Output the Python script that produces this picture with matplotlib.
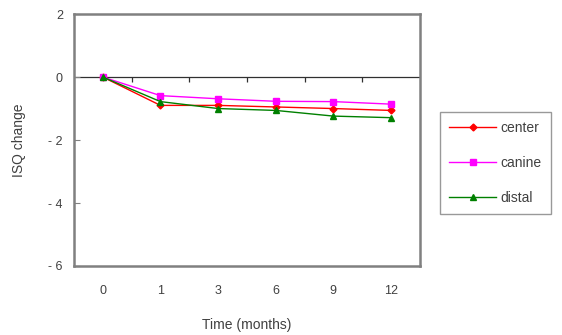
import numpy as np
import matplotlib
matplotlib.use('Agg')
import matplotlib.pyplot as plt

# --- Data ---
months = ['0', '1', '3', '6', '9', '12']
center = [0.0, -0.90, -0.90, -0.95, -1.00, -1.06]
canine = [0.0, -0.59, -0.69, -0.77, -0.78, -0.86]
distal = [0.0, -0.78, -1.00, -1.06, -1.24, -1.29]
y_ticks = [2, 0, -2, -4, -6]

GRAY = '#808080'
TXT = '#404040'

plt.rcParams['font.family'] = ['Liberation Sans', 'DejaVu Sans']

fig = plt.figure(figsize=(5.62, 3.35), dpi=100)
ax = fig.add_axes([0.1317, 0.206, 0.6153, 0.752])

x = np.arange(len(months))
ax.plot(x, center, color='red', marker='D', markersize=3.5, lw=1, label='center')
ax.plot(x, canine, color='magenta', marker='s', markersize=5, lw=1, label='canine')
ax.plot(x, distal, color='green', marker='^', markersize=5, lw=1, label='distal')

# zero line with category-boundary ticks hanging below it
ax.axhline(0, color='#303030', lw=0.9, zorder=1)
ax.vlines(np.arange(0.5, len(months) - 1), -0.17, 0, color='#303030', lw=0.9)

ax.set_xlim(-0.5, len(months) - 0.5)
ax.set_ylim(-6, 2)
ax.set_xticks(x)
ax.set_xticklabels(months)
ax.tick_params(axis='x', length=0, pad=14, labelsize=9, labelcolor=TXT)
ax.set_yticks(y_ticks)
ax.set_yticklabels([('- %d' % -v) if v < 0 else str(v) for v in y_ticks])
ax.tick_params(axis='y', direction='in', length=4, color=GRAY, labelsize=9,
               labelcolor=TXT, pad=8)

for s in ax.spines.values():
    s.set_color(GRAY)
    s.set_linewidth(1.8)

ax.set_xlabel('Time (months)', fontsize=10, color=TXT, labelpad=15)
ax.set_ylabel('ISQ change', fontsize=10, color=TXT, labelpad=16)

leg = fig.legend(loc='upper left', bbox_to_anchor=(0.783, 0.666), fontsize=10,
                 frameon=True, fancybox=False, handlelength=3.4, handletextpad=0.3,
                 labelspacing=1.5, borderpad=0.65, borderaxespad=0)
leg.get_frame().set_edgecolor(GRAY)
leg.get_frame().set_linewidth(1.0)
for t in leg.get_texts():
    t.set_color(TXT)

fig.savefig('out.png', dpi=100)
